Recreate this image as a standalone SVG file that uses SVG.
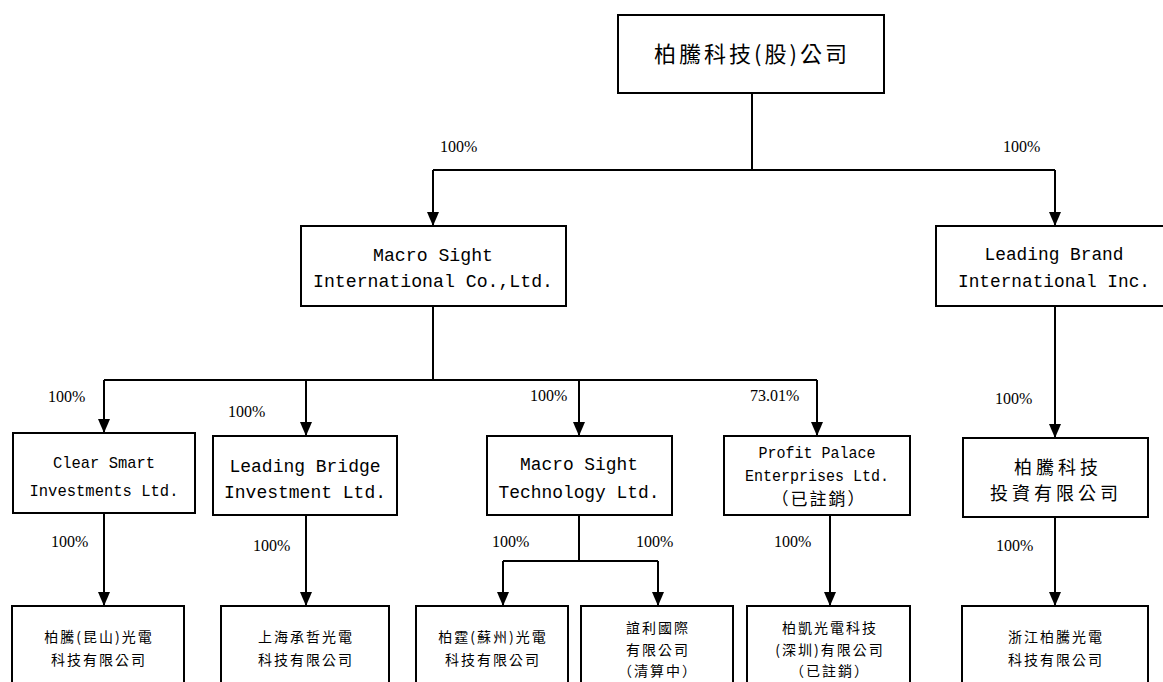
<svg xmlns="http://www.w3.org/2000/svg" width="1163" height="682" viewBox="0 0 1163 682">
<defs>
<marker id="ah" viewBox="0 0 14 12" refX="14" refY="6" markerWidth="14" markerHeight="12" markerUnits="userSpaceOnUse" orient="auto">
<path d="M0,0 L14,6 L0,12 Z" fill="#000"/>
</marker>
<style>
.box{fill:#fff;stroke:#000;stroke-width:2}
.ln{fill:none;stroke:#000;stroke-width:2}
.arr{fill:none;stroke:#000;stroke-width:2}
.pct{font-family:"Liberation Serif",serif;font-size:16px;fill:#000}
.lat{font-family:"Liberation Mono",monospace;fill:#000;text-anchor:middle}
.cjk{font-family:"Noto Sans CJK TC","Noto Sans CJK SC",sans-serif;fill:#000;text-anchor:middle}
</style>
</defs>
<rect width="1163" height="682" fill="#fff"/>

<g id="connectors">
<polyline class="ln" points="752,93 752,170"/>
<polyline class="ln" points="433,170 1055,170"/>
<line class="arr" x1="433" y1="170" x2="433" y2="226" marker-end="url(#ah)"/>
<line class="arr" x1="1055" y1="170" x2="1055" y2="226" marker-end="url(#ah)"/>
<polyline class="ln" points="433,306 433,380"/>
<polyline class="ln" points="104,380 817,380"/>
<line class="arr" x1="104" y1="380" x2="104" y2="433" marker-end="url(#ah)"/>
<line class="arr" x1="306" y1="380" x2="306" y2="436" marker-end="url(#ah)"/>
<line class="arr" x1="579" y1="380" x2="579" y2="436" marker-end="url(#ah)"/>
<line class="arr" x1="817" y1="380" x2="817" y2="436" marker-end="url(#ah)"/>
<line class="arr" x1="1055" y1="306" x2="1055" y2="438" marker-end="url(#ah)"/>
<line class="arr" x1="104" y1="513" x2="104" y2="606" marker-end="url(#ah)"/>
<line class="arr" x1="306" y1="515" x2="306" y2="606" marker-end="url(#ah)"/>
<polyline class="ln" points="579,515 579,561"/>
<polyline class="ln" points="503,561 658,561"/>
<line class="arr" x1="503" y1="561" x2="503" y2="606" marker-end="url(#ah)"/>
<line class="arr" x1="658" y1="561" x2="658" y2="606" marker-end="url(#ah)"/>
<line class="arr" x1="830" y1="515" x2="830" y2="606" marker-end="url(#ah)"/>
<line class="arr" x1="1055" y1="517" x2="1055" y2="606" marker-end="url(#ah)"/>
</g>

<g id="labels">
<text class="pct" x="440" y="152">100%</text>
<text class="pct" x="1003" y="152">100%</text>
<text class="pct" x="48" y="402">100%</text>
<text class="pct" x="228" y="417">100%</text>
<text class="pct" x="530" y="401">100%</text>
<text class="pct" x="750" y="401">73.01%</text>
<text class="pct" x="995" y="404">100%</text>
<text class="pct" x="51" y="547">100%</text>
<text class="pct" x="253" y="551">100%</text>
<text class="pct" x="492" y="547">100%</text>
<text class="pct" x="636" y="547">100%</text>
<text class="pct" x="774" y="547">100%</text>
<text class="pct" x="996" y="551">100%</text>
</g>

<g id="n-parent">
<rect class="box" x="618" y="15" width="266" height="78"/>
<text class="cjk" x="752" y="62" font-size="22" letter-spacing="3">柏騰科技(股)公司</text>
</g>

<g id="n-macro-intl">
<rect class="box" x="301" y="226" width="265" height="80"/>
<text class="lat" x="433" y="261" font-size="19" textLength="120" lengthAdjust="spacingAndGlyphs">Macro Sight</text>
<text class="lat" x="433" y="287" font-size="19" textLength="240" lengthAdjust="spacingAndGlyphs">International Co.,Ltd.</text>
</g>

<g id="n-leading-brand">
<rect class="box" x="936" y="226" width="240" height="80"/>
<text class="lat" x="1054" y="260" font-size="19" textLength="139" lengthAdjust="spacingAndGlyphs">Leading Brand</text>
<text class="lat" x="1054" y="287" font-size="19" textLength="192" lengthAdjust="spacingAndGlyphs">International Inc.</text>
</g>

<g id="n-clear-smart">
<rect class="box" x="13" y="433" width="182" height="80"/>
<text class="lat" x="104" y="468" font-size="17" textLength="102" lengthAdjust="spacingAndGlyphs">Clear Smart</text>
<text class="lat" x="104" y="496" font-size="17" textLength="149" lengthAdjust="spacingAndGlyphs">Investments Ltd.</text>
</g>

<g id="n-leading-bridge">
<rect class="box" x="213" y="436" width="184" height="79"/>
<text class="lat" x="305" y="472" font-size="19" textLength="151" lengthAdjust="spacingAndGlyphs">Leading Bridge</text>
<text class="lat" x="305" y="498" font-size="19" textLength="162" lengthAdjust="spacingAndGlyphs">Investment Ltd.</text>
</g>

<g id="n-macro-tech">
<rect class="box" x="487" y="436" width="185" height="79"/>
<text class="lat" x="579" y="470" font-size="19" textLength="118" lengthAdjust="spacingAndGlyphs">Macro Sight</text>
<text class="lat" x="579" y="498" font-size="19" textLength="161" lengthAdjust="spacingAndGlyphs">Technology Ltd.</text>
</g>

<g id="n-profit-palace">
<rect class="box" x="724" y="436" width="186" height="79"/>
<text class="lat" x="817" y="458" font-size="16" textLength="117" lengthAdjust="spacingAndGlyphs">Profit Palace</text>
<text class="lat" x="817" y="481" font-size="16" textLength="144" lengthAdjust="spacingAndGlyphs">Enterprises Ltd.</text>
<text class="cjk" x="819" y="505" font-size="17" letter-spacing="2">（已註銷）</text>
</g>

<g id="n-bt-invest">
<rect class="box" x="963" y="438" width="185" height="79"/>
<text class="cjk" x="1058" y="474" font-size="18" letter-spacing="4">柏騰科技</text>
<text class="cjk" x="1056" y="500" font-size="18" letter-spacing="4">投資有限公司</text>
</g>

<g id="n-bt-kunshan">
<rect class="box" x="12" y="606" width="172" height="90"/>
<text class="cjk" x="99" y="642" font-size="14" letter-spacing="2">柏騰(昆山)光電</text>
<text class="cjk" x="99" y="665" font-size="14" letter-spacing="2">科技有限公司</text>
</g>

<g id="n-sh-chengzhe">
<rect class="box" x="221" y="606" width="168" height="90"/>
<text class="cjk" x="306" y="642" font-size="14" letter-spacing="2">上海承哲光電</text>
<text class="cjk" x="306" y="665" font-size="14" letter-spacing="2">科技有限公司</text>
</g>

<g id="n-bt-suzhou">
<rect class="box" x="416" y="606" width="152" height="90"/>
<text class="cjk" x="493" y="642" font-size="14" letter-spacing="2">柏霆(蘇州)光電</text>
<text class="cjk" x="493" y="665" font-size="14" letter-spacing="2">科技有限公司</text>
</g>

<g id="n-yili">
<rect class="box" x="581" y="606" width="152" height="90"/>
<text class="cjk" x="658" y="633" font-size="14" letter-spacing="2">誼利國際</text>
<text class="cjk" x="658" y="655" font-size="14" letter-spacing="2">有限公司</text>
<text class="cjk" x="658" y="676" font-size="14" letter-spacing="2">（清算中）</text>
</g>

<g id="n-bokai">
<rect class="box" x="747" y="606" width="163" height="90"/>
<text class="cjk" x="830" y="633" font-size="14" letter-spacing="2">柏凱光電科技</text>
<text class="cjk" x="830" y="655" font-size="14" letter-spacing="2">(深圳)有限公司</text>
<text class="cjk" x="830" y="676" font-size="14" letter-spacing="2">（已註銷）</text>
</g>

<g id="n-zj-bt">
<rect class="box" x="962" y="606" width="186" height="90"/>
<text class="cjk" x="1056" y="642" font-size="14" letter-spacing="2">浙江柏騰光電</text>
<text class="cjk" x="1056" y="665" font-size="14" letter-spacing="2">科技有限公司</text>
</g>
</svg>
